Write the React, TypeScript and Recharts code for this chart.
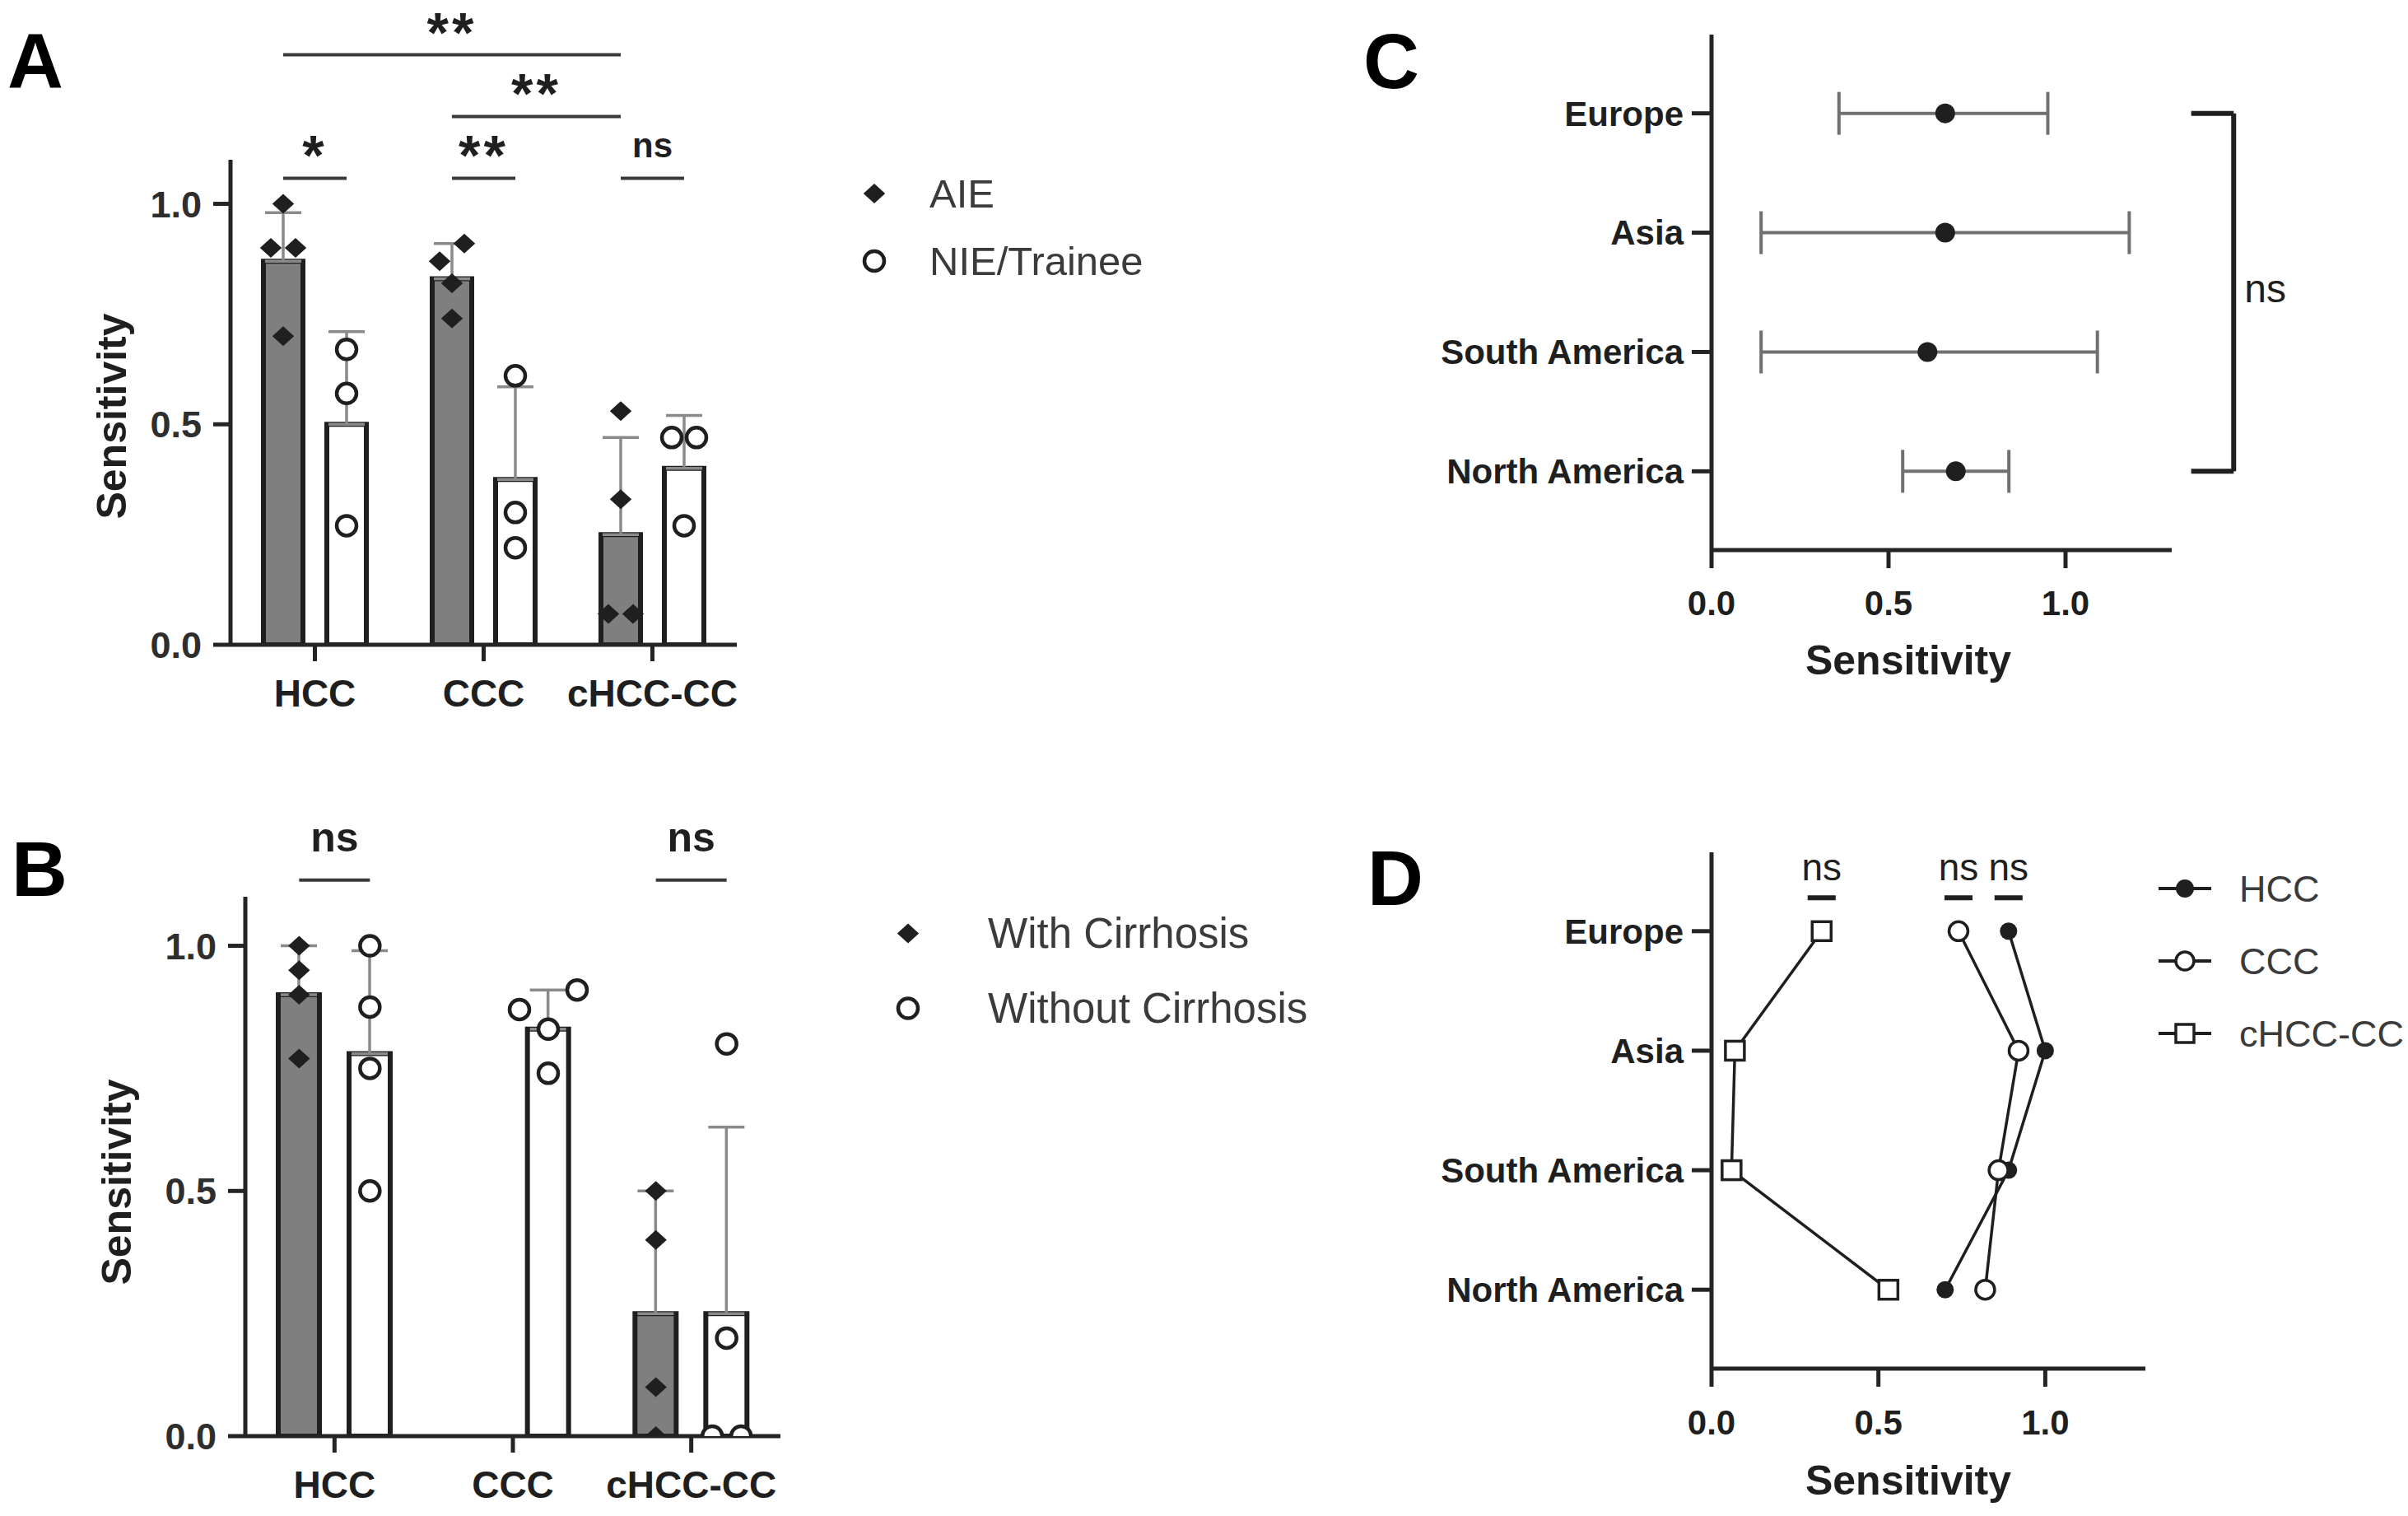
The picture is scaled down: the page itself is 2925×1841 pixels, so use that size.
import React from "react"
import {
  ComposedChart,
  ScatterChart,
  Bar,
  Scatter,
  XAxis,
  YAxis,
  ErrorBar,
  ReferenceLine,
  Legend,
} from "recharts"

const FONT = '"Liberation Sans", Arial, Helvetica, sans-serif'
const INK = "#1f1f1f"
const AXIS = "#242424"

// shared
const tumourTypes = ["HCC", "CCC", "cHCC-CC"]
const sensTicks = [0, 0.5, 1]
const xSensTicks = [0, 0.5, 1]

// A - sensitivity by reader experience
const aieMean = [0.87, 0.83, 0.25]
const aieSd = [0.11, 0.08, 0.22]
const aieScores = [[1.0, 0.9, 0.9, 0.7], [0.91, 0.87, 0.82, 0.74], [0.53, 0.33, 0.07, 0.07]]
const nieMean = [0.5, 0.375, 0.4]
const nieSd = [0.21, 0.21, 0.12]
const nieScores = [[0.67, 0.57, 0.27], [0.61, 0.3, 0.22], [0.47, 0.47, 0.27]]
// [category, group] pairs compared
const sigA = [
  { left: [0, 0], right: [0, 1], text: "*", tier: 0 },
  { left: [1, 0], right: [1, 1], text: "**", tier: 0 },
  { left: [2, 0], right: [2, 1], text: "ns", tier: 0 },
  { left: [1, 0], right: [2, 0], text: "**", tier: 1 },
  { left: [0, 0], right: [2, 0], text: "**", tier: 2 },
]

// B - sensitivity by liver background
const cirrMean = [0.9, null, 0.25]
const cirrSd = [0.1, null, 0.25]
const cirrScores = [[1.0, 0.95, 0.9, 0.77], [], [0.5, 0.4, 0.1, 0.0]]
const noCirrMean = [0.78, 0.83, 0.25]
const noCirrSd = [0.21, 0.08, 0.38]
const noCirrScores = [[1.0, 0.875, 0.75, 0.5], [0.91, 0.87, 0.83, 0.74], [0.8, 0.2, 0.0, 0.0]]
const sigB = [
  { left: [0, 0], right: [0, 1], text: "ns", tier: 0 },
  { left: [2, 0], right: [2, 1], text: "ns", tier: 0 },
]

// C - by region
const regions = ["Europe", "Asia", "South America", "North America"]
const regionSens = [0.66, 0.66, 0.61, 0.69]
const regionLo = [0.36, 0.14, 0.14, 0.54]
const regionHi = [0.95, 1.18, 1.09, 0.84]

// D - by region and tumour type
const hccByRegion = [0.89, 1.0, 0.89, 0.7]
const cccByRegion = [0.74, 0.92, 0.86, 0.82]
const mixedByRegion = [0.33, 0.07, 0.06, 0.53]

type Kind = "diamond" | "ring" | "dot" | "square"

function Marker({ kind, cx, cy, r, sw = 4.5 }: { kind: Kind; cx: number; cy: number; r: number; sw?: number }) {
  if (kind === "diamond")
    return <path d={`M${cx},${cy - r}L${cx + r * 1.1},${cy}L${cx},${cy + r}L${cx - r * 1.1},${cy}Z`} fill={INK} />
  if (kind === "dot") return <circle cx={cx} cy={cy} r={r} fill={INK} />
  if (kind === "square")
    return <rect x={cx - r} y={cy - r} width={r * 2} height={r * 2} fill="#fff" stroke={INK} strokeWidth={sw} />
  return <circle cx={cx} cy={cy} r={r} fill="#fff" stroke={INK} strokeWidth={sw} />
}

// spread points that would overlap sideways, like a scatter dot plot
function placeDots(scores: number[][], side: number, shift: number, step: number, near: number) {
  const out: { x: number; y: number }[] = []
  scores.forEach((vals, ci) => {
    const sorted = [...vals].sort((a, b) => a - b)
    let k = 0
    while (k < sorted.length) {
      let j = k
      while (j + 1 < sorted.length && sorted[j + 1] - sorted[j] < near) j++
      const n = j - k + 1
      // slots nearest the middle first, left before right
      const slots = Array.from({ length: n }, (_, m) => m - (n - 1) / 2).sort(
        (a, b) => Math.abs(a) - Math.abs(b) || a - b
      )
      for (let m = k; m <= j; m++) {
        out.push({ x: ci + 0.5 + side * shift + slots[m - k] * step, y: sorted[m] })
      }
      k = j + 1
    }
  })
  return out
}

function SigMark(props: any) {
  const { viewBox, text, nsSize, lift, anchor } = props
  if (!viewBox) return null
  const star = text.includes("*")
  const size = star ? 68 : nsSize
  if (anchor === "side") {
    const x = viewBox.x + 13
    const mid = viewBox.y + viewBox.height / 2
    return (
      <text x={x} y={mid + 0.26 * size} fontSize={size} fontFamily={FONT} fill={INK}>
        {text}
      </text>
    )
  }
  const cx = viewBox.x + viewBox.width / 2
  const mid = viewBox.y - lift
  return (
    <text
      x={cx}
      y={mid + (star ? 0.47 : 0.26) * size}
      textAnchor="middle"
      fontSize={size}
      fontWeight={props.light ? 400 : 700}
      fontFamily={FONT}
      fill={INK}
      letterSpacing={star ? 4 : 0}
    >
      {text}
    </text>
  )
}

function YTitle(props: any) {
  const { viewBox, gap, shift } = props
  const x = viewBox.x + viewBox.width - gap
  const y = viewBox.y + viewBox.height / 2 + shift
  return (
    <text x={x} y={y} transform={`rotate(-90 ${x} ${y})`} textAnchor="middle" dominantBaseline="central"
      fontSize={50} fontWeight={700} fontFamily={FONT} fill={INK}>
      Sensitivity
    </text>
  )
}

function XTitle(props: any) {
  const { viewBox, dx, dy } = props
  return (
    <text x={viewBox.x + dx} y={viewBox.y + dy} textAnchor="middle" dominantBaseline="central"
      fontSize={50} fontWeight={700} fontFamily={FONT} fill={INK}>
      Sensitivity
    </text>
  )
}

function KeyBox(props: any) {
  const { payload, rowH, markerX, textX, fontSize, kinds, order, line, r, sw } = props
  const items = (payload || [])
    .filter((e: any) => e.type !== "none" && kinds[e.value])
    .sort((a: any, b: any) => order.indexOf(a.value) - order.indexOf(b.value))
  return (
    <svg width={620} height={rowH * items.length} style={{ display: "block", overflow: "visible" }}>
      {items.map((e: any, i: number) => {
        const cy = rowH * (i + 0.5)
        return (
          <g key={e.value}>
            {line && <line x1={markerX - 32} x2={markerX + 32} y1={cy} y2={cy} stroke={INK} strokeWidth={4} />}
            <Marker kind={kinds[e.value]} cx={markerX} cy={cy} r={r} sw={sw} />
            <text x={textX} y={cy} dominantBaseline="central" fontSize={fontSize} fontFamily={FONT} fill="#3b3b3b">
              {e.value}
            </text>
          </g>
        )
      })}
    </svg>
  )
}

type Group = { name: string; mean: (number | null)[]; sd: (number | null)[]; scores: number[][]; fill: string; kind: Kind }
type BarCfg = {
  pos: { x: number; y: number; w: number; h: number }
  plot: { l: number; t: number; w: number; h: number }
  groups: Group[]
  barSize: number
  barGap: number
  dotStep: number
  sig: { left: number[]; right: number[]; text: string; tier: number }[]
  sigBase: number
  sigLift: number
  nsSize: number
  titleGap: number
  titleShift: number
  legendBox: { left: number; top: number; rowH: number; markerX: number; textX: number; fontSize: number }
}

function BarPanel(cfg: BarCfg) {
  const { pos, plot, groups, legendBox } = cfg
  const band = plot.w / tumourTypes.length
  const shift = (cfg.barSize + cfg.barGap) / 2 / band
  const perUnit = plot.h / 1.1
  const near = 25 / perUnit
  const step = cfg.dotStep / band
  const rows = tumourTypes.map((cat, i) => ({
    cat,
    g0: groups[0].mean[i],
    e0: groups[0].sd[i] == null ? undefined : [0, groups[0].sd[i]],
    g1: groups[1].mean[i],
    e1: groups[1].sd[i] == null ? undefined : [0, groups[1].sd[i]],
  }))
  const XH = 60
  const kinds: Record<string, Kind> = {}
  groups.forEach((g) => (kinds[g.name] = g.kind))
  const tickStyle = { fill: "#2e2e2e", fontSize: 45, fontWeight: 700, fontFamily: FONT }
  return (
    <div style={{ position: "absolute", left: pos.x, top: pos.y }}>
      <ComposedChart
        width={pos.w}
        height={pos.h}
        data={rows}
        barSize={cfg.barSize}
        barGap={cfg.barGap}
        margin={{ top: plot.t, left: 0, right: pos.w - plot.l - plot.w, bottom: pos.h - plot.t - plot.h - XH }}
      >
        <XAxis
          dataKey="cat"
          height={XH}
          interval={0}
          tickSize={20}
          tickMargin={22}
          axisLine={{ stroke: AXIS, strokeWidth: 5 }}
          tickLine={{ stroke: AXIS, strokeWidth: 5 }}
          tick={{ ...tickStyle, fontSize: 46, fill: INK }}
        />
        <XAxis xAxisId="num" type="number" dataKey="x" domain={[0, 3]} hide allowDataOverflow />
        <YAxis
          width={plot.l}
          domain={[0, 1.1]}
          ticks={sensTicks}
          interval={0}
          allowDataOverflow
          tickSize={21}
          tickMargin={14}
          tickFormatter={(v: number) => v.toFixed(1)}
          axisLine={{ stroke: AXIS, strokeWidth: 5 }}
          tickLine={{ stroke: AXIS, strokeWidth: 5 }}
          tick={tickStyle}
          label={<YTitle gap={cfg.titleGap} shift={cfg.titleShift} />}
        />
        {groups.map((g, gi) => (
          <Bar
            key={g.name + "-bar"}
            dataKey={gi === 0 ? "g0" : "g1"}
            fill={g.fill}
            stroke={INK}
            strokeWidth={6}
            legendType="none"
            isAnimationActive={false}
          >
            <ErrorBar dataKey={gi === 0 ? "e0" : "e1"} width={22} stroke="#8a8a8a" strokeWidth={3.5} direction="y" />
          </Bar>
        ))}
        {groups.map((g, gi) => (
          <Scatter
            key={g.name}
            name={g.name}
            xAxisId="num"
            dataKey="y"
            data={placeDots(g.scores, gi === 0 ? -1 : 1, shift, step, near)}
            shape={(p: any) => <Marker kind={g.kind} cx={p.cx} cy={p.cy} r={12} sw={4.5} />}
            isAnimationActive={false}
          />
        ))}
        {cfg.sig.map((s, k) => {
          const xa = s.left[0] + 0.5 + (s.left[1] === 0 ? -shift : shift)
          const xb = s.right[0] + 0.5 + (s.right[1] === 0 ? -shift : shift)
          const y = cfg.sigBase + s.tier * 0.14
          return (
            <ReferenceLine
              key={"sig" + k}
              xAxisId="num"
              segment={[{ x: xa, y }, { x: xb, y }]}
              stroke="#3a3a3a"
              strokeWidth={4}
              ifOverflow="visible"
              label={<SigMark text={s.text} nsSize={cfg.nsSize} lift={cfg.sigLift} />}
            />
          )
        })}
        <Legend
          layout="vertical"
          align="center"
          verticalAlign="middle"
          wrapperStyle={{ left: legendBox.left, top: legendBox.top, width: 620, height: legendBox.rowH * 2 }}
          content={
            <KeyBox rowH={legendBox.rowH} markerX={legendBox.markerX} textX={legendBox.textX}
              fontSize={legendBox.fontSize} kinds={kinds} order={groups.map((g) => g.name)} r={12} sw={4.5} />
          }
        />
      </ComposedChart>
    </div>
  )
}

const regionTick = { fill: INK, fontSize: 42, fontWeight: 700, fontFamily: FONT }

function RegionPanel() {
  const rows = regions.map((_, i) => ({
    x: regionSens[i],
    y: i,
    err: [regionSens[i] - regionLo[i], regionHi[i] - regionSens[i]],
  }))
  const last = regions.length - 1
  return (
    <div style={{ position: "absolute", left: 1640, top: 0 }}>
      <ScatterChart width={1285} height={900} margin={{ top: 42, right: 287, bottom: 152, left: 0 }}>
        <XAxis
          type="number"
          dataKey="x"
          domain={[0, 1.3]}
          ticks={xSensTicks}
          interval={0}
          allowDataOverflow
          height={80}
          tickSize={22}
          tickMargin={27}
          tickFormatter={(v: number) => v.toFixed(1)}
          axisLine={{ stroke: AXIS, strokeWidth: 5 }}
          tickLine={{ stroke: AXIS, strokeWidth: 5 }}
          tick={regionTick}
          label={<XTitle dx={239} dy={134} />}
        />
        <YAxis
          type="number"
          dataKey="y"
          domain={[-0.66, 3.66]}
          reversed
          ticks={[0, 1, 2, 3]}
          interval={0}
          allowDataOverflow
          width={439}
          tickSize={24}
          tickMargin={10}
          tickFormatter={(v: number) => regions[v] ?? ""}
          axisLine={{ stroke: AXIS, strokeWidth: 5 }}
          tickLine={{ stroke: AXIS, strokeWidth: 5 }}
          tick={regionTick}
        />
        <Scatter
          name="Sensitivity"
          data={rows}
          dataKey="y"
          shape={(p: any) => <Marker kind="dot" cx={p.cx} cy={p.cy} r={12} />}
          isAnimationActive={false}
        >
          <ErrorBar dataKey="err" direction="x" width={26} stroke="#707070" strokeWidth={4} />
        </Scatter>
        <ReferenceLine segment={[{ x: 1.355, y: 0 }, { x: 1.475, y: 0 }]} stroke={INK} strokeWidth={6} ifOverflow="visible" />
        <ReferenceLine segment={[{ x: 1.355, y: last }, { x: 1.475, y: last }]} stroke={INK} strokeWidth={6} ifOverflow="visible" />
        <ReferenceLine
          segment={[{ x: 1.475, y: 0 }, { x: 1.475, y: last }]}
          stroke={INK}
          strokeWidth={6}
          ifOverflow="visible"
          label={<SigMark text="ns" nsSize={48} anchor="side" />}
        />
      </ScatterChart>
    </div>
  )
}

function RegionTypePanel() {
  const series = [
    { name: "HCC", values: hccByRegion, kind: "dot" as Kind, r: 10.5 },
    { name: "CCC", values: cccByRegion, kind: "ring" as Kind, r: 11.5 },
    { name: "cHCC-CC", values: mixedByRegion, kind: "square" as Kind, r: 11.5 },
  ]
  const kinds: Record<string, Kind> = {}
  series.forEach((s) => (kinds[s.name] = s.kind))
  return (
    <div style={{ position: "absolute", left: 1640, top: 950 }}>
      <ScatterChart width={1285} height={891} margin={{ top: 85, right: 319, bottom: 99, left: 0 }}>
        <XAxis
          type="number"
          dataKey="x"
          domain={[0, 1.3]}
          ticks={xSensTicks}
          interval={0}
          allowDataOverflow
          height={80}
          tickSize={22}
          tickMargin={28}
          tickFormatter={(v: number) => v.toFixed(1)}
          axisLine={{ stroke: AXIS, strokeWidth: 5 }}
          tickLine={{ stroke: AXIS, strokeWidth: 5 }}
          tick={regionTick}
          label={<XTitle dx={239} dy={136} />}
        />
        <YAxis
          type="number"
          dataKey="y"
          domain={[-0.66, 3.66]}
          reversed
          ticks={[0, 1, 2, 3]}
          interval={0}
          allowDataOverflow
          width={439}
          tickSize={24}
          tickMargin={10}
          tickFormatter={(v: number) => regions[v] ?? ""}
          axisLine={{ stroke: AXIS, strokeWidth: 5 }}
          tickLine={{ stroke: AXIS, strokeWidth: 5 }}
          tick={regionTick}
        />
        {series.map((s) => (
          <Scatter
            key={s.name}
            name={s.name}
            dataKey="y"
            data={s.values.map((v, i) => ({ x: v, y: i }))}
            line={{ stroke: INK, strokeWidth: 3.5 }}
            lineJointType="linear"
            shape={(p: any) => <Marker kind={s.kind} cx={p.cx} cy={p.cy} r={s.r} sw={3.5} />}
            isAnimationActive={false}
          />
        ))}
        {series.map((s) => (
          <ReferenceLine
            key={s.name + "-ns"}
            segment={[{ x: s.values[0] - 0.042, y: -0.28 }, { x: s.values[0] + 0.042, y: -0.28 }]}
            stroke={INK}
            strokeWidth={6}
            ifOverflow="visible"
            label={<SigMark text="ns" nsSize={46} lift={33} light />}
          />
        ))}
        <Legend
          layout="vertical"
          align="center"
          verticalAlign="middle"
          wrapperStyle={{ left: 972, top: 85, width: 620, height: 88 * 3 }}
          content={
            <KeyBox rowH={88} markerX={42} textX={108} fontSize={45} kinds={kinds}
              order={series.map((s) => s.name)} line r={11} sw={3.5} />
          }
        />
      </ScatterChart>
    </div>
  )
}

export default function App() {
  const letter = { fontSize: 94, fontWeight: 700, fontFamily: FONT, fill: "#000" }
  return (
    <div style={{ position: "absolute", left: 0, top: 0, width: 2925, height: 1841, background: "#fff", fontFamily: FONT }}>
      <BarPanel
        pos={{ x: 0, y: 0, w: 1640, h: 900 }}
        plot={{ l: 280, t: 194, w: 615, h: 589 }}
        groups={[
          { name: "AIE", mean: aieMean, sd: aieSd, scores: aieScores, fill: "#7f7f7f", kind: "diamond" },
          { name: "NIE/Trainee", mean: nieMean, sd: nieSd, scores: nieScores, fill: "#ffffff", kind: "ring" },
        ]}
        barSize={48}
        barGap={29}
        dotStep={30}
        sig={sigA}
        sigBase={1.058}
        sigLift={36}
        nsSize={42}
        titleGap={144}
        titleShift={17}
        legendBox={{ left: 1032, top: 194, rowH: 82, markerX: 30, textX: 97, fontSize: 49 }}
      />
      <BarPanel
        pos={{ x: 0, y: 950, w: 1640, h: 891 }}
        plot={{ l: 298, t: 139, w: 650, h: 655 }}
        groups={[
          { name: "With Cirrhosis", mean: cirrMean, sd: cirrSd, scores: cirrScores, fill: "#7f7f7f", kind: "diamond" },
          { name: "Without Cirrhosis", mean: noCirrMean, sd: noCirrSd, scores: noCirrScores, fill: "#ffffff", kind: "ring" },
        ]}
        barSize={50}
        barGap={36}
        dotStep={35}
        sig={sigB}
        sigBase={1.134}
        sigLift={48}
        nsSize={50}
        titleGap={156}
        titleShift={19}
        legendBox={{ left: 1085, top: 138, rowH: 91, markerX: 18, textX: 115, fontSize: 51 }}
      />
      <RegionPanel />
      <RegionTypePanel />
      <svg width={2925} height={1841} style={{ position: "absolute", left: 0, top: 0, pointerEvents: "none" }}>
        <text x={9} y={107} {...letter}>A</text>
        <text x={14} y={1088} {...letter}>B</text>
        <text x={1656} y={107} {...letter}>C</text>
        <text x={1661} y={1099} {...letter}>D</text>
      </svg>
    </div>
  )
}
